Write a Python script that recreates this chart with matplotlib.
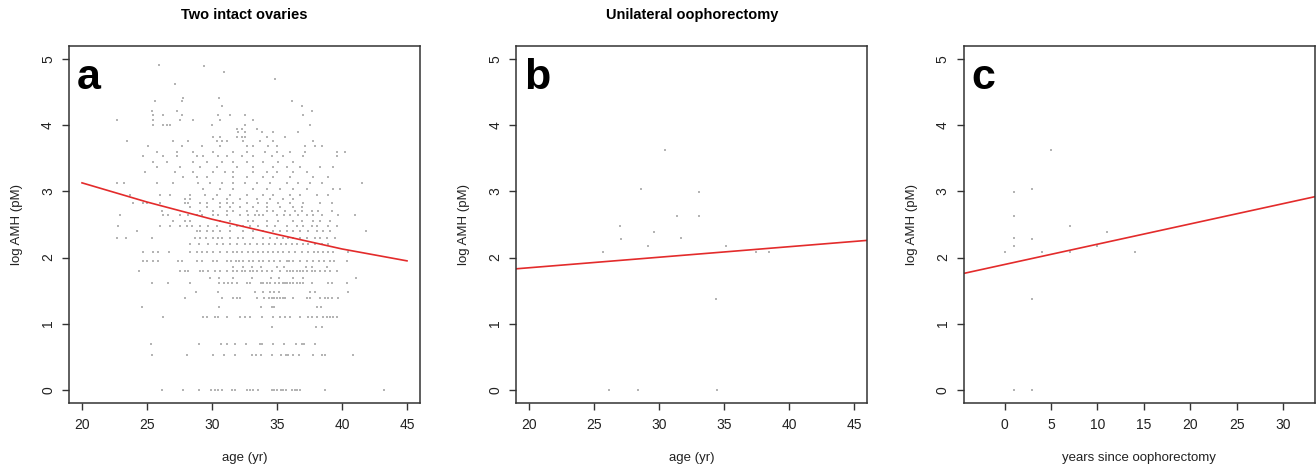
import matplotlib
matplotlib.use("Agg")
import matplotlib.pyplot as plt

plt.rcParams["font.family"] = ["Liberation Sans", "DejaVu Sans"]

# Panel a: two intact ovaries. Points sit on discrete log AMH levels,
# so the ages are listed row by row (one list per level).
amh_levels_a = [0.0, 0.53, 0.69, 0.95, 1.10, 1.25, 1.39, 1.48, 1.61, 1.69,
                1.79, 1.86, 1.95, 2.08, 2.20, 2.30, 2.40, 2.48, 2.56, 2.64,
                2.71, 2.77, 2.83, 2.89, 2.95, 3.03, 3.13, 3.22, 3.30, 3.37,
                3.45, 3.54, 3.60, 3.68, 3.76, 3.83, 3.90, 3.95, 4.00, 4.08,
                4.16, 4.21, 4.29, 4.37, 4.42, 4.62, 4.70, 4.81, 4.90, 4.92]
age_rows_a = [
    [26.18, 27.79, 29.0, 29.9, 30.23, 30.49, 30.74, 31.56, 31.79, 32.72, 32.92, 33.13, 33.54,
     34.59, 34.77, 35.03, 35.28, 35.49, 35.69, 36.15, 36.36, 36.56, 36.77, 38.69, 43.26],
    [25.36, 28.1, 30.1, 30.92, 31.77, 33.1, 33.36, 33.79, 34.59, 35.28, 35.67, 35.87, 36.26,
     36.69, 37.79, 38.46, 38.72, 40.87],
    [25.28, 29.0, 30.67, 31.13, 31.79, 32.59, 33.72, 33.87, 34.69, 35.56, 36.46, 36.9, 37.08, 37.95],
    [34.59, 38.0, 38.44],
    [26.26, 29.28, 29.59, 30.23, 30.49, 31.13, 32.15, 32.54, 32.92, 33.87, 34.72, 35.23, 35.62,
     36.0, 36.77, 37.41, 37.67, 38.05, 38.56, 38.82, 39.08, 39.33, 39.64],
    [24.59, 30.56, 33.77, 34.59, 34.77, 38.05, 38.36],
    [27.92, 30.74, 31.64, 31.9, 32.15, 33.44, 34.03, 34.41, 34.59, 34.79, 34.97, 35.23, 35.44,
     35.62, 36.2, 37.28, 37.54, 38.31, 38.69, 38.95, 39.21, 39.72],
    [28.74, 30.44, 33.31, 33.95, 34.46, 34.77, 35.15, 37.54, 37.92, 40.49],
    [25.41, 26.64, 28.31, 30.56, 30.92, 31.26, 31.56, 31.9, 32.67, 32.92, 33.77, 33.95, 34.21,
     34.46, 34.87, 35.18, 35.44, 35.62, 35.79, 36.0, 36.26, 36.51, 36.77, 37.03, 37.67, 38.95,
     39.21, 40.36],
    [29.85, 30.56, 31.64, 33.05, 34.51, 35.18, 36.21, 36.97, 41.05],
    [24.41, 27.54, 27.92, 28.18, 29.08, 29.33, 29.72, 30.23, 30.62, 31.13, 31.64, 31.9, 32.28,
     32.54, 32.92, 33.18, 33.44, 33.82, 34.21, 34.59, 35.23, 35.74, 36.0, 36.26, 36.51, 36.77,
     37.03, 37.28, 37.67, 37.92, 38.31, 38.69, 39.08, 39.59],
    [31.64, 32.41, 33.1, 33.77, 35.03, 35.54, 37.26, 37.67, 38.87],
    [24.67, 24.97, 25.49, 25.87, 27.41, 27.67, 28.82, 29.21, 30.1, 30.36, 31.13, 31.46, 31.82,
     32.1, 32.41, 32.85, 33.18, 33.62, 33.95, 34.41, 34.77, 35.23, 35.74, 35.95, 36.26, 36.77,
     37.28, 37.79, 38.26, 38.62, 39.08, 39.38, 40.36],
    [24.67, 25.49, 25.87, 26.72, 28.31, 28.82, 29.21, 29.64, 30.1, 30.62, 31.13, 31.64, 31.95,
     32.33, 32.79, 33.18, 33.56, 33.95, 34.33, 34.72, 35.1, 35.49, 35.95, 36.38, 36.9, 37.41,
     37.85, 38.18, 38.56, 38.95, 39.33, 40.49],
    [28.31, 29.03, 29.72, 30.36, 30.87, 31.38, 31.95, 32.54, 32.92, 33.44, 33.95, 34.41, 34.85,
     35.28, 35.69, 36.13, 36.56, 37.03, 37.41, 37.92, 38.44, 38.95],
    [22.67, 23.38, 25.41, 28.69, 29.08, 29.54, 30.1, 30.49, 30.79, 31.38, 32.03, 32.41, 33.18,
     33.95, 34.46, 34.97, 35.49, 35.87, 36.26, 36.77, 37.28, 37.92, 38.31, 38.82, 39.46],
    [24.21, 28.82, 29.08, 29.64, 30.1, 30.62, 31.38, 32.41, 33.18, 33.95, 34.72, 35.23, 35.74,
     36.26, 36.77, 37.41, 38.05, 38.51, 39.08, 41.82],
    [22.79, 26.0, 26.77, 27.54, 28.05, 28.44, 29.08, 29.72, 30.36, 31.38, 31.9, 32.41, 32.92,
     33.56, 34.21, 34.85, 35.74, 36.51, 37.03, 37.67, 38.05, 38.95, 39.59],
    [27.03, 27.92, 28.31, 30.62, 31.38, 32.79, 33.18, 34.21, 35.1, 36.26, 36.9, 37.79, 38.31, 39.08],
    [22.92, 26.26, 26.64, 27.54, 28.18, 28.82, 29.21, 30.1, 30.49, 31.13, 32.15, 32.79, 33.31,
     33.64, 33.95, 34.97, 35.54, 36.0, 36.64, 37.28, 37.79, 38.44, 39.72, 41.0],
    [26.13, 29.08, 30.1, 31.13, 31.64, 32.67, 33.44, 34.21, 34.72, 35.62, 36.38, 36.9, 37.67,
     38.18, 39.21],
    [28.31, 29.59, 30.62, 31.38, 32.15, 33.18, 34.21, 35.23, 36.26, 36.9],
    [23.95, 24.67, 24.97, 26.0, 27.92, 28.18, 29.08, 29.59, 30.62, 31.13, 31.64, 32.67, 33.56,
     34.21, 35.1, 36.0, 37.03, 38.31, 39.21],
    [27.92, 28.31, 30.1, 31.13, 32.15, 33.44, 34.46, 35.49, 36.26],
    [23.69, 26.0, 26.77, 28.31, 29.46, 30.36, 31.38, 32.67, 33.95, 34.72, 36.0, 36.77, 38.05, 38.95],
    [29.33, 30.62, 31.64, 33.18, 34.21, 35.23, 36.26, 37.28, 39.33, 39.85],
    [22.67, 23.26, 25.74, 27.03, 28.95, 29.85, 30.74, 31.64, 32.54, 33.44, 34.46, 35.74, 36.64,
     37.54, 38.44, 41.51],
    [27.79, 28.82, 29.59, 31.64, 32.67, 33.95, 34.72, 36.0, 37.79, 38.95],
    [24.85, 27.15, 28.56, 30.1, 31.0, 31.64, 33.18, 34.21, 34.97, 36.26, 37.28],
    [25.74, 27.54, 29.08, 30.36, 31.9, 33.18, 34.72, 35.74, 36.77, 38.31, 39.33],
    [25.49, 26.51, 28.56, 29.59, 30.74, 31.64, 32.67, 33.95, 35.1, 36.26],
    [24.72, 26.26, 27.28, 28.82, 29.33, 30.49, 31.13, 32.28, 33.18, 34.59, 35.49, 37.03, 39.59],
    [25.74, 27.28, 28.56, 30.1, 31.64, 32.67, 34.08, 34.97, 36.0, 37.15, 39.59, 40.23],
    [25.1, 27.67, 29.21, 30.62, 32.67, 33.18, 34.33, 34.97, 37.15, 37.92, 38.44],
    [23.44, 27.03, 28.18, 30.36, 30.74, 31.13, 32.41, 33.69, 34.72, 37.79],
    [30.1, 30.62, 31.9, 32.28, 32.54, 34.21, 35.62],
    [32.03, 32.54, 33.82, 34.72, 36.64],
    [31.9, 32.28, 33.44],
    [25.49, 26.26, 26.51, 26.77, 29.97, 32.54, 37.54],
    [22.72, 25.49, 27.54, 28.56, 30.62, 33.18],
    [25.49, 26.26, 27.67, 30.49, 31.38, 32.54, 37.03],
    [25.36, 27.28, 37.67],
    [30.74, 36.9],
    [25.64, 27.72, 36.15],
    [27.79, 30.54],
    [27.15],
    [34.85],
    [30.95],
    [29.38],
    [25.95],
]
fit_age_a = [20, 25, 30, 35, 40, 45]
fit_amh_a = [3.13, 2.84, 2.58, 2.35, 2.13, 1.95]

# Panel b: unilateral oophorectomy vs age
age_b = [25.69, 26.15, 27.0, 27.08, 28.36, 28.62, 29.1, 29.62, 30.46, 31.38, 31.69,
         33.08, 33.08, 34.36, 34.46, 35.13, 37.44, 38.46]
amh_b = [2.08, 0.0, 2.48, 2.28, 0.0, 3.04, 2.18, 2.39, 3.63, 2.63, 2.30,
         2.99, 2.63, 1.38, 0.0, 2.18, 2.08, 2.08]
fit_age_b = [19, 46]
fit_amh_b = [1.83, 2.26]

# Panel c: vs years since oophorectomy
years_c = [0, 1, 1, 1, 1, 1, 3, 3, 3, 3, 4, 5, 7, 7, 10, 11, 14]
amh_c = [2.08, 2.99, 2.63, 2.30, 2.18, 0.0, 3.04, 2.28, 1.38, 0.0, 2.08, 3.63,
         2.48, 2.08, 2.18, 2.39, 2.08]
fit_years_c = [-4.4, 33.4]
fit_amh_c = [1.76, 2.92]

age_a = [a for row in age_rows_a for a in row]
amh_a = [lv for lv, row in zip(amh_levels_a, age_rows_a) for _ in row]

fig = plt.figure(figsize=(13.16, 4.69), dpi=100)
W, H = 1316, 469
ax_w, ax_h = 351 / W, 357 / H
bottom = 1 - 403 / H
lefts = [69 / W, 516.3 / W, 963.7 / W]
axes = [fig.add_axes([l, bottom, ax_w, ax_h]) for l in lefts]

point_col = "#b4b4b4"
line_col = "#e32b2b"
edge_col = "#333333"

panels = [
    (age_a, amh_a, fit_age_a, fit_amh_a, (19, 46), [20, 25, 30, 35, 40, 45],
     "age (yr)", "Two intact ovaries", "a"),
    (age_b, amh_b, fit_age_b, fit_amh_b, (19, 46), [20, 25, 30, 35, 40, 45],
     "age (yr)", "Unilateral oophorectomy", "b"),
    (years_c, amh_c, fit_years_c, fit_amh_c, (-4.4, 33.4), [0, 5, 10, 15, 20, 25, 30],
     "years since oophorectomy", None, "c"),
]

for ax, (x, y, fx, fy, xlim, xticks, xlabel, title, letter) in zip(axes, panels):
    ax.scatter(x, y, s=4, marker="s", color=point_col, linewidths=0)
    ax.plot(fx, fy, color=line_col, lw=1.2)
    ax.set_xlim(*xlim)
    ax.set_ylim(-0.2, 5.2)
    ax.set_xticks(xticks)
    ax.set_yticks([0, 1, 2, 3, 4, 5])
    ax.tick_params(direction="out", length=5, width=1, colors=edge_col,
                   labelcolor="#222222", labelsize=10)
    ax.tick_params(axis="x", pad=6)
    ax.tick_params(axis="y", pad=5)
    for lab in ax.get_yticklabels():
        lab.set_rotation(90)
        lab.set_va("center")
    for sp in ax.spines.values():
        sp.set_color(edge_col)
        sp.set_linewidth(1.1)
    ax.set_xlabel(xlabel, fontsize=9.5, color="#222222")
    ax.xaxis.label.set_va("center")
    ax.xaxis.set_label_coords(0.5, -55 / 357)
    ax.set_ylabel("log AMH (pM)", fontsize=9.5, color="#222222")
    ax.yaxis.label.set_va("center")
    ax.yaxis.set_label_coords(-52 / 351, 0.5)
    if title:
        ax.text(0.5, 1 + 31 / 357, title, transform=ax.transAxes, ha="center",
                va="center", fontsize=10.5, fontweight="bold")
    ax.text(0.022, 0.965, letter, transform=ax.transAxes, ha="left", va="top",
            fontsize=31, fontweight="bold")

fig.savefig("out.png", dpi=100)
